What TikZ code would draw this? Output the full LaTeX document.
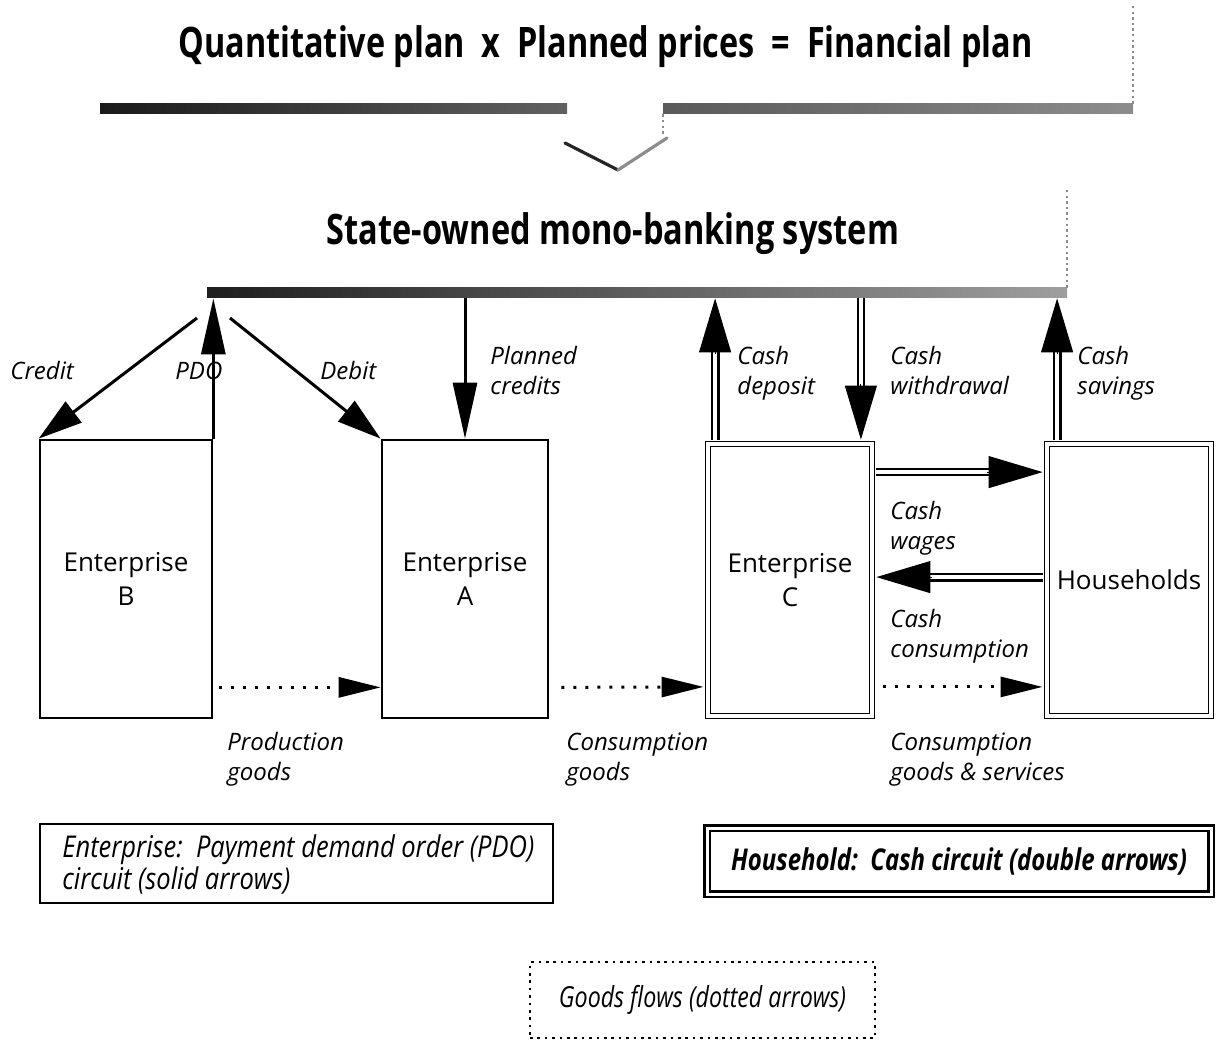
\documentclass[tikz,border=0pt]{standalone}
\usepackage{fontspec}
\usepackage{graphicx}
\setmainfont{Open Sans}
\newfontfamily\condfont{Open Sans}[FakeStretch=0.8]
\newfontfamily\condfontb{Open Sans}[FakeStretch=0.85]
\usetikzlibrary{arrows.meta,calc}
\begin{document}
\begin{tikzpicture}[x=0.5pt,y=-0.5pt,
  bar/.style={shade, shading=axis, inner sep=0pt, minimum height=5pt},
  faint/.style={draw=black!45, line width=1pt, dash pattern=on 1.2pt off 1.6pt},
  ebox/.style={draw, line width=1.35pt, inner sep=0pt, minimum width=86pt, minimum height=139pt,
    align=center, font=\fontsize{13}{17}\selectfont},
  dbox/.style={draw, double, line width=0.9pt, double distance=1.6pt, inner sep=0pt,
    minimum width=82pt, minimum height=136pt, align=center, font=\fontsize{13}{17}\selectfont},
  lab/.style={font=\fontsize{12}{15}\selectfont\itshape, align=left, anchor=base west, inner sep=0pt},
  solid arrow/.style={line width=1.5pt, -{Triangle[length=28pt,width=12pt]}},
  diag arrow/.style={line width=1.5pt, -{Triangle[length=22pt,width=13pt]}},
  cash/.style={line width=1.3pt, double, double distance=1.8pt, shorten >=20pt},
  cashtip/.style={line width=0.5pt, -{Triangle[length=27pt,width=16pt]}},
  goods/.style={line width=1.5pt, dash pattern=on 1.5pt off 4.5pt, -{Triangle[length=21pt,width=10pt]}},
  legtext/.style={font=\condfontb\fontsize{15}{15}\selectfont\itshape, align=left, inner sep=0pt}
]
\useasboundingbox (0,0) rectangle (1217,1043);

% ---------- planning level ----------
\node[anchor=base, inner sep=0pt] (title) at (605.5,58)
  {\resizebox{427pt}{\height}{\fontsize{21}{25}\selectfont\condfont\bfseries Quantitative plan\ \ x\ \ Planned prices\ \ =\ \ Financial plan}};
\node[bar, left color=black!90, right color=black!62, minimum width=233.5pt] (planL) at (333.5,109) {};
\node[bar, left color=black!65, right color=black!45, minimum width=235pt] (planR) at (898,109) {};
\draw[faint] (planR.north east) -- ++(0,-99);
\draw[faint] (planR.south west) -- ++(0,20);
\draw[line width=1.6pt, black!85, line cap=round] (565,143) -- (618,170);
\draw[line width=1.6pt, black!45, line cap=round] (618,170) -- (667,138);

% ---------- bank ----------
\node[anchor=base, inner sep=0pt] (banktitle) at (613,245)
  {\resizebox{286pt}{\height}{\fontsize{21}{25}\selectfont\condfont\bfseries State-owned mono-banking system}};
\node[bar, left color=black!88, right color=black!38, minimum width=430pt] (bank) at (637,293) {};
\draw[faint] (bank.north east) -- ++(0,-100);

% ---------- boxes ----------
\node[ebox] (B) at (126,579) {Enterprise\\B};
\node[ebox, minimum width=83pt] (A) at (465,579) {Enterprise\\A};
\node[dbox] (C) at (790,580) {Enterprise\\C};
\node[dbox] (H) at (1129,580) {Households};

% ---------- PDO circuit ----------
\coordinate (crS) at (197,318);
\coordinate (dbS) at (230,318);
\draw[diag arrow] (crS) -- (B.north west);
\draw[diag arrow] (dbS) -- (A.north west);
\draw[solid arrow] (B.north east) -- (B.north east |- bank.south);
\draw[solid arrow] (A.north |- bank.south) -- (A.north);

\node[lab] (lcredit) at (10,380) {Credit};
\node[lab] (lpdo) at (175,380) {PDO};
\node[lab] (ldebit) at (320,380) {Debit};
\node[lab] (lplan) at (490,395) {Planned\\credits};

% ---------- cash circuit ----------
\coordinate (cdS) at ($(C.north west)+(8,-3.5)$);
\coordinate (cdE) at (cdS |- bank.south);
\draw[cash] (cdS) -- (cdE);
\draw[cashtip] ($(cdE)!28pt!(cdS)$) -- (cdE);

\coordinate (cwE) at ($(C.north east)+(-12,-3.5)$);
\coordinate (cwS) at (cwE |- bank.south);
\draw[cash] (cwS) -- (cwE);
\draw[cashtip] ($(cwE)!28pt!(cwS)$) -- (cwE);

\coordinate (csS) at ($(H.north west)+(11,-3.5)$);
\coordinate (csE) at (csS |- bank.south);
\draw[cash] (csS) -- (csE);
\draw[cashtip] ($(csE)!28pt!(csS)$) -- (csE);

\coordinate (wgS) at ($(C.north east)+(3.5,29)$);
\coordinate (wgE) at ($(H.west |- wgS)+(-3.5,0)$);
\draw[cash] (wgS) -- (wgE);
\draw[cashtip] ($(wgE)!28pt!(wgS)$) -- (wgE);

\coordinate (cnS) at ($(H.north west)+(-3.5,134)$);
\coordinate (cnE) at ($(C.east |- cnS)+(3.5,0)$);
\draw[cash] (cnS) -- (cnE);
\draw[cashtip] ($(cnE)!28pt!(cnS)$) -- (cnE);

\node[lab] (ldep) at (737,395) {Cash\\deposit};
\node[lab] (lwd) at (890,395) {Cash\\withdrawal};
\node[lab] (lsav) at (1077,395) {Cash\\savings};
\node[lab] (lwag) at (890,550) {Cash\\wages};
\node[lab] (lcons) at (890,657) {Cash\\consumption};

% ---------- goods flows ----------
\draw[goods] ($(B.south east)+(6,-32)$) -- ($(A.south west)+(0,-32)$);
\draw[goods] ($(A.south east)+(12,-32)$) -- ($(C.south west)+(-3.5,-30)$);
\draw[goods] ($(C.south east)+(10,-30)$) -- ($(H.south west)+(-3.5,-30)$);

\node[lab] (lprod) at (227,780) {Production\\goods};
\node[lab] (lcg) at (566,780) {Consumption\\goods};
\node[lab] (lcgs) at (890,780) {Consumption\\goods \& services};

% ---------- legend ----------
\node[draw, line width=1.35pt, minimum width=256.5pt, minimum height=39.5pt, inner sep=0pt] (leg1) at (296.5,863.5) {};
\node[legtext, anchor=west] (leg1t) at (62,864) {Enterprise:\ \ Payment demand order (PDO)\\circuit (solid arrows)};
\node[draw, double, line width=1.1pt, double distance=1.5pt, minimum width=252pt, minimum height=33pt, inner sep=0pt,
  font=\condfont\fontsize{15}{15}\selectfont\bfseries\itshape] (leg2) at (959,861) {Household:\ \ Cash circuit (double arrows)};
\node[draw, line width=1.3pt, dash pattern=on 1.3pt off 2.4pt, minimum width=172.5pt, minimum height=38pt, inner sep=0pt,
  font=\condfont\fontsize{14.5}{15}\selectfont\itshape] (leg3) at (702.5,1000) {Goods flows (dotted arrows)};
\end{tikzpicture}
\end{document}
